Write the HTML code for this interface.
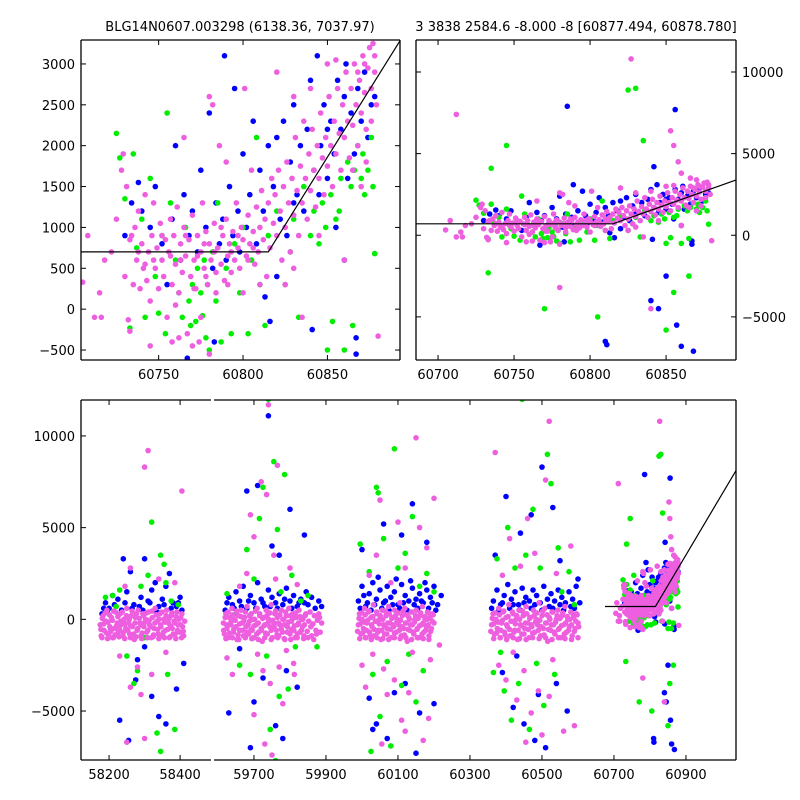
<!DOCTYPE html>
<html><head><meta charset="utf-8"><style>
html,body{margin:0;padding:0;background:#fff;width:800px;height:800px;overflow:hidden;}
svg{display:block;font-family:"DejaVu Sans","Liberation Sans",sans-serif;}
</style></head><body>
<svg id="fig" width="800" height="800" viewBox="0 0 800 800">
<defs>
<clipPath id="cTL"><rect x="81" y="40" width="319" height="320"/></clipPath>
<clipPath id="cTR"><rect x="416" y="40" width="320" height="320"/></clipPath>
<clipPath id="cBL"><rect x="81" y="400" width="130" height="360"/></clipPath>
<clipPath id="cBR"><rect x="214" y="400" width="522" height="360"/></clipPath>
</defs>
<text x="240" y="31" text-anchor="middle" font-size="13">BLG14N0607.003298 (6138.36, 7037.97)</text>
<text x="576" y="31" text-anchor="middle" font-size="13">3 3838 2584.6 -8.000 -8 [60877.494, 60878.780]</text>
<g id="layer"></g>
</svg>
<script>
// model line
const lineT=[60675,60815,61040];
const lineF=[700,700,8150];
// season A
const pinkA=[[58175,-300],[58178,-900],[58183,200],[58186,-600],[58191,-100],[58194,500],[58199,-800],[58202,-400],[58207,100],[58210,-1000],[58215,-500],[58218,400],[58223,-200],[58226,-700],[58231,300],[58234,-300],[58239,-900],[58242,0],[58247,-500],[58250,600],[58255,-200],[58258,-800],[58263,200],[58266,-400],[58271,-1100],[58274,100],[58279,-600],[58282,500],[58287,-200],[58290,-900],[58295,300],[58298,-400],[58303,0],[58306,-700],[58311,400],[58314,-300],[58319,-1000],[58322,100],[58327,-500],[58330,600],[58335,-100],[58338,-800],[58343,300],[58346,-400],[58351,-900],[58354,0],[58359,-600],[58362,500],[58367,-200],[58370,-1000],[58375,200],[58378,-500],[58383,-100],[58386,-800],[58391,400],[58394,-300],[58399,-700],[58402,100],[58407,-400],[58410,-900],
[58230,-2000],[58245,1800],[58260,2800],[58280,-2600],[58300,8300],[58310,9200],[58290,-4100],[58260,-3700],[58340,2200],[58385,2000],[58405,7000],[58300,-6500],[58250,-6700],[58320,-3000],[58360,-1800]];
const pinkA2=[[58177,-550],[58181,50],[58185,-250],[58189,350],[58193,-750],[58197,-150],[58201,250],[58205,-650],[58209,-50],[58213,450],[58217,-850],[58221,-350],[58225,150],[58229,-550],[58233,-100],[58237,400],[58241,-700],[58245,-250],[58249,200],[58253,-600],[58257,0],[58261,-350],[58265,450],[58269,-800],[58273,-200],[58277,300],[58281,-500],[58285,50],[58289,-300],[58293,-750],[58297,200],[58301,-150],[58305,350],[58309,-600],[58313,-50],[58317,-400],[58321,450],[58325,-850],[58329,-200],[58333,250],[58337,-550],[58341,0],[58345,-300],[58349,400],[58353,-700],[58357,-150],[58361,200],[58365,-550],[58369,50],[58373,-350],[58377,350],[58381,-800],[58385,-200],[58389,150],[58393,-600],[58397,0],[58401,-300],[58405,300],[58409,-650],[58413,-100],[58180,-1000],[58196,-1050],[58212,-1000],[58228,-950],[58244,-1050],[58260,-1000],[58276,-950],[58292,-1050],[58308,-1000],[58324,-950],[58340,-1050],[58356,-1000],[58372,-950],[58388,-1050],[58404,-1000]];
const blueA=[[58180,300],[58190,900],[58200,600],[58210,1300],[58225,1100],[58240,3300],[58250,1500],[58260,2600],[58270,800],[58280,-2200],[58290,1200],[58300,3300],[58310,1000],[58320,1600],[58330,2000],[58340,700],[58350,1100],[58360,1800],[58370,2500],[58380,900],[58390,700],[58400,1200],[58410,-2400],[58230,-5500],[58255,-6600],[58275,-3300],[58320,-4200],[58340,-5300],[58360,-5700],[58390,-3800],[58300,-1500],[58205,-500],
[58185,600],[58195,400],[58215,800],[58235,500],[58245,900],[58265,600],[58285,700],[58295,500],[58315,900],[58335,400],[58355,800],[58375,600],[58395,900],[58405,500]];
const greenA=[[58190,1200],[58210,1300],[58230,1600],[58250,-2000],[58270,-3500],[58290,1800],[58310,2400],[58320,5300],[58335,-6200],[58345,3500],[58355,3000],[58365,-3000],[58375,1000],[58385,-6000],[58395,800],[58300,-1000],[58280,-2800],[58345,-7200],[58360,2000],[58220,700]];
// season B
const pinkB=[[59615,-200],[59618,-800],[59622,300],[59625,-500],[59629,-1000],[59632,100],[59636,-300],[59639,600],[59643,-700],[59646,0],[59650,-400],[59653,-1100],[59657,200],[59660,-600],[59664,500],[59667,-200],[59671,-900],[59674,100],[59678,-400],[59681,700],[59685,-800],[59688,-100],[59692,300],[59695,-600],[59699,-1000],[59702,0],[59706,-300],[59709,600],[59713,-700],[59716,200],[59720,-500],[59723,-1200],[59727,100],[59730,-300],[59734,500],[59737,-800],[59741,0],[59744,-400],[59748,800],[59751,-1000],[59755,-200],[59758,300],[59762,-600],[59765,100],[59769,-900],[59772,-300],[59776,500],[59779,-700],[59783,0],[59786,-1100],[59790,200],[59793,-400],[59797,600],[59800,-800],[59804,-100],[59807,300],[59811,-600],[59814,-1000],[59818,100],[59821,-300],[59825,500],[59828,-700],[59832,0],[59835,-400],[59839,-900],[59842,200],
[59625,-2100],[59640,-3000],[59660,1800],[59680,2500],[59700,4500],[59710,-1900],[59720,7500],[59725,-2800],[59735,6800],[59745,-3500],[59755,3500],[59760,2200],[59770,-2600],[59780,-4600],[59790,-1700],[59800,2800],[59810,-2400],[59820,1900],[59700,-5200],[59690,5700],[59730,-6800],[59750,-7400],[59740,11700],[59765,8400],[59812,-3000]];
const pinkB2=[[59616,-600],[59620,100],[59624,-300],[59628,400],[59632,-750],[59636,-150],[59640,250],[59644,-550],[59648,-50],[59652,450],[59656,-850],[59660,-250],[59664,150],[59668,-600],[59672,-100],[59676,400],[59680,-700],[59684,-300],[59688,200],[59692,-550],[59696,0],[59700,-350],[59704,450],[59708,-800],[59712,-200],[59716,300],[59720,-600],[59724,50],[59728,-350],[59732,-750],[59736,200],[59740,-150],[59744,350],[59748,-600],[59752,-50],[59756,-400],[59760,450],[59764,-850],[59768,-200],[59772,250],[59776,-550],[59780,0],[59784,-300],[59788,400],[59792,-700],[59796,-150],[59800,200],[59804,-550],[59808,50],[59812,-350],[59816,350],[59820,-800],[59824,-200],[59828,150],[59832,-600],[59836,0],[59840,-300],[59844,300],[59848,-650],[59852,-100],[59856,400],[59860,-900],[59864,-250],[59868,200],[59872,-600],[59876,-50],[59880,300],[59884,-700],[59888,-200],[59850,-1000],[59858,-400],[59866,-1100],[59874,-800],[59882,100],[59622,-1050],[59640,-1000],[59658,-1100],[59676,-1000],[59694,-1050],[59712,-1100],[59730,-1000],[59748,-1100],[59766,-1000],[59784,-1050],[59802,-1100],[59820,-1000],[59838,-1050]];
const blueB=[[59620,500],[59630,1200],[59640,800],[59650,1500],[59660,1000],[59670,1800],[59680,600],[59690,1300],[59700,900],[59710,2000],[59720,1100],[59730,700],[59740,1600],[59750,1200],[59760,900],[59770,1400],[59780,800],[59790,1700],[59800,1000],[59810,1300],[59820,700],[59830,1100],[59840,900],[59845,1500],
[59680,7000],[59700,-4500],[59710,7300],[59725,-3200],[59740,11100],[59750,4000],[59760,-5800],[59770,3500],[59780,-6500],[59800,6000],[59820,-3700],[59840,4600],[59630,-5100],[59660,-1600],[59790,-2800],[59690,-7000],
[59625,900],[59645,600],[59665,700],[59685,1000],[59705,600],[59725,900],[59745,700],[59765,600],[59785,1100],[59805,600],[59825,900],[59850,800],[59860,1200],[59870,600],[59880,1000],[59888,700]];
const greenB=[[59625,1400],[59650,300],[59660,-2500],[59680,3800],[59690,-3000],[59700,2200],[59715,5500],[59725,7200],[59735,-2000],[59745,-6000],[59755,8600],[59765,4900],[59775,1500],[59785,7900],[59795,-3800],[59805,2400],[59815,-1500],[59830,1000],[59740,12000],[59760,-7700],[59700,-1000],[59770,-4200],[59850,1300],[59875,-1500]];
// season C
const pinkC=[[59990,-300],[59993,300],[59997,-800],[60000,0],[60004,-500],[60007,600],[60011,-1000],[60014,-200],[60018,400],[60021,-700],[60025,100],[60028,-400],[60032,800],[60035,-900],[60039,-100],[60042,300],[60046,-600],[60049,0],[60053,-1100],[60056,500],[60060,-300],[60063,-800],[60067,200],[60070,-500],[60074,700],[60077,-200],[60081,-1000],[60084,100],[60088,-400],[60091,500],[60095,-700],[60098,0],[60102,-300],[60105,900],[60109,-900],[60112,200],[60116,-500],[60119,600],[60123,-200],[60126,-1200],[60130,100],[60133,-600],[60137,400],[60140,-300],[60144,-800],[60147,0],[60151,500],[60154,-500],[60158,-1000],[60161,200],[60165,-300],[60168,700],[60172,-700],[60175,0],[60179,-400],[60182,400],[60186,-900],[60189,100],[60193,-500],[60196,300],[60200,-200],
[60000,-2500],[60010,-3700],[60020,2400],[60030,-1900],[60040,3500],[60050,6500],[60060,-2700],[60070,-4100],[60080,2000],[60090,-3300],[60100,5300],[60110,-5500],[60120,2800],[60130,-4000],[60140,-1800],[60150,9900],[60160,5000],[60170,-6600],[60180,3900],[60190,-2200],[60200,6600],[60215,-1400],[60055,-6800],[60120,-6100],[60185,-5400]];
const pinkC2=[[59988,-650],[59992,50],[59995,-250],[59999,350],[60002,-750],[60006,-150],[60009,250],[60013,-600],[60016,-50],[60020,450],[60023,-850],[60027,-300],[60030,150],[60034,-550],[60037,-100],[60041,400],[60044,-700],[60048,-250],[60051,200],[60055,-600],[60058,0],[60062,-350],[60065,450],[60069,-800],[60072,-200],[60076,300],[60079,-550],[60083,50],[60086,-300],[60090,-750],[60093,200],[60097,-150],[60100,350],[60104,-600],[60107,-50],[60111,-400],[60114,450],[60118,-850],[60121,-200],[60125,250],[60128,-550],[60132,0],[60135,-300],[60139,400],[60142,-700],[60146,-150],[60149,200],[60153,-550],[60156,50],[60160,-350],[60163,350],[60167,-800],[60170,-200],[60174,150],[60177,-600],[60181,0],[60184,-300],[60188,300],[60191,-650],[60195,-100],[60198,250],[59994,-1050],[60010,-1000],[60026,-1100],[60042,-1000],[60058,-1050],[60074,-1100],[60090,-1000],[60106,-1050],[60122,-1000],[60138,-1100],[60154,-1000],[60170,-1050],[60186,-1100]];
const blueC=[[59990,1000],[60000,1800],[60010,700],[60020,1400],[60030,2000],[60040,1100],[60050,1600],[60060,900],[60070,1800],[60080,1200],[60090,1500],[60100,800],[60110,1900],[60120,1300],[60130,1000],[60140,1700],[60150,1100],[60160,1400],[60170,900],[60180,1600],[60190,1200],[60200,1800],[60210,800],[60220,1300],[60005,1300],[60045,2300],[60095,2200],[60135,2100],[60175,2000],
[60000,3800],[60020,-4300],[60040,-5700],[60060,5200],[60070,-6500],[60090,-4000],[60110,4600],[60120,-3500],[60140,6300],[60160,-5100],[60180,4200],[60200,-4600],[60030,-6000],[60150,-7300],
[59995,600],[60015,900],[60025,500],[60035,800],[60055,600],[60065,1000],[60075,500],[60085,800],[60105,600],[60115,900],[60125,500],[60145,800],[60155,600],[60165,1000],[60185,600],[60195,900],[60205,500]];
const greenC=[[59995,4100],[60010,-1000],[60020,2600],[60030,-3000],[60040,7200],[60050,-5300],[60060,4400],[60070,-2300],[60080,-6900],[60090,9300],[60100,2800],[60110,-3600],[60120,3600],[60130,-1900],[60140,5600],[60150,-4500],[60160,1800],[60170,-2800],[60180,2500],[60200,1500],[60045,6900],[60025,-7200]];
// season D
const pinkD=[[60360,-300],[60364,300],[60368,-800],[60372,0],[60376,-500],[60380,600],[60384,-1000],[60388,-200],[60392,400],[60396,-700],[60400,100],[60404,-400],[60408,800],[60412,-900],[60416,-100],[60420,300],[60424,-600],[60428,0],[60432,-1100],[60436,500],[60440,-300],[60444,-800],[60448,200],[60452,-500],[60456,700],[60460,-200],[60464,-1000],[60468,100],[60472,-400],[60476,500],[60480,-700],[60484,0],[60488,-300],[60492,900],[60496,-900],[60500,200],[60504,-500],[60508,600],[60512,-200],[60516,-1200],[60520,100],[60524,-600],[60528,400],[60532,-300],[60536,-800],[60540,0],[60544,500],[60548,-500],[60552,-1000],[60556,200],[60560,-300],[60564,700],[60568,-700],[60572,0],[60576,-400],[60580,400],[60584,-900],[60588,100],[60592,-500],[60596,300],[60600,-200],
[60370,9100],[60380,-2500],[60390,2400],[60400,-3300],[60410,4400],[60420,-1800],[60430,-4400],[60440,2900],[60450,-2800],[60460,5500],[60470,-5100],[60480,3600],[60490,-3900],[60500,-6300],[60510,7600],[60520,10800],[60530,-2200],[60540,2500],[60560,-6100],[60580,4000],[60590,-5800],[60455,-6700],[60520,-4200]];
const pinkD2=[[60358,-650],[60362,50],[60366,-250],[60370,350],[60374,-750],[60378,-150],[60382,250],[60386,-600],[60390,-50],[60394,450],[60398,-850],[60402,-300],[60406,150],[60410,-550],[60414,-100],[60418,400],[60422,-700],[60426,-250],[60430,200],[60434,-600],[60438,0],[60442,-350],[60446,450],[60450,-800],[60454,-200],[60458,300],[60462,-550],[60466,50],[60470,-300],[60474,-750],[60478,200],[60482,-150],[60486,350],[60490,-600],[60494,-50],[60498,-400],[60502,450],[60506,-850],[60510,-200],[60514,250],[60518,-550],[60522,0],[60526,-300],[60530,400],[60534,-700],[60538,-150],[60542,200],[60546,-550],[60550,50],[60554,-350],[60558,350],[60562,-800],[60566,-200],[60570,150],[60574,-600],[60578,0],[60582,-300],[60586,300],[60590,-650],[60594,-100],[60598,250],[60602,-400],[60366,-1050],[60384,-1000],[60402,-1100],[60420,-1000],[60438,-1050],[60456,-1100],[60474,-1000],[60492,-1050],[60510,-1000],[60528,-1100],[60546,-1000],[60564,-1050],[60582,-1100],[60600,-1000]];
const blueD=[[60365,1000],[60375,1600],[60385,800],[60395,1300],[60405,1900],[60415,1100],[60425,1500],[60435,800],[60445,1700],[60455,1200],[60465,1000],[60475,1600],[60485,1300],[60495,900],[60505,1800],[60515,1100],[60525,1400],[60535,1000],[60545,1600],[60555,1200],[60565,900],[60575,1500],[60585,1100],[60595,1800],
[60370,3500],[60390,-2900],[60400,6700],[60420,-4800],[60440,4700],[60450,-5700],[60470,5700],[60480,-6600],[60490,-4100],[60500,8300],[60510,-7000],[60530,6100],[60540,-3500],[60550,3200],[60570,-5000],[60600,2200],[60430,-2000],
[60360,600],[60380,500],[60390,900],[60410,600],[60420,800],[60440,500],[60450,900],[60470,600],[60480,800],[60500,500],[60520,700],[60530,600],[60550,800],[60560,500],[60580,700],[60590,600],[60605,900]];
const greenD=[[60365,-2900],[60375,3300],[60385,-1800],[60395,-3900],[60405,5000],[60415,-5500],[60425,2800],[60435,-3500],[60445,12000],[60455,3500],[60465,-6000],[60475,6000],[60485,-2400],[60495,2800],[60505,-4700],[60515,9000],[60525,7400],[60535,-3000],[60545,3900],[60555,1500],[60575,2600],[60590,800]];
// season E (current event)
const pinkE=[[60705,330],[60708,900],[60712,-100],[60716,-100],[60715,200],[60718,600],[60722,700],[60725,1100],[60728,1700],[60729,1900],[60730,400],[60731,1500],[60732,-130],[60733,-270],[60734,900],[60735,300],[60736,1000],[60737,600],[60738,1200],[60739,250],[60740,800],[60741,500],[60742,1400],[60743,350],[60744,700],[60745,100],[60746,900],[60747,1300],[60748,500],[60749,750],[60750,250],[60751,1050],[60752,600],[60753,400],[60754,850],[60755,-100],[60756,700],[60757,1100],[60758,300],[60759,900],[60760,550],[60761,1250],[60762,200],[60763,800],[60764,450],[60765,1000],[60766,650],[60767,-300],[60768,850],[60769,400],[60770,1150],[60771,600],[60772,250],[60773,900],[60774,-400],[60775,700],[60776,1300],[60777,500],[60778,950],[60779,300],[60780,800],[60781,600],[60782,2500],[60783,1050],[60784,450],[60785,750],[60786,2000],[60787,550],[60788,900],[60789,350],[60790,1100],[60791,650],[60792,800],[60793,450],[60794,950],[60795,600],[60796,1300],[60797,750],[60798,500],[60799,1000],[60800,850],[60801,2700],[60802,650],[60803,1150],[60804,800],[60805,1700],[60806,950],[60807,550],[60808,1250],[60809,700],[60810,1000],[60811,1450],[60812,850],[60813,1100],[60814,400],[60815,1300],[60816,750],[60817,1600],[60818,1050],[60819,1400],[60820,900],[60821,1700],[60822,1200],[60823,600],[60824,1500],[60825,1000],[60826,1800],[60827,1300],[60828,700],[60829,1600],[60830,1150],[60831,2100],[60832,1450],[60833,900],[60834,1750],[60835,1300],[60836,2300],[60837,1600],[60838,1100],[60839,1900],[60840,1450],[60841,2200],[60842,1700],[60843,1250],[60844,2000],[60845,1600],[60846,2400],[60847,1850],[60848,1400],[60849,2100],[60850,1750],[60851,2600],[60852,2000],[60853,1500],[60854,2300],[60855,1900],[60856,2700],[60857,2150],[60858,1700],[60859,2500],[60860,2100],[60861,2900],[60862,2300],[60863,1850],[60864,2700],[60865,2250],[60866,3000],[60867,2500],[60868,2000],[60869,2800],[60870,2400],[60871,3100],[60872,2650],[60873,2200],[60874,2950],[60875,3200],[60876,2700],[60877,3250],[60878,2900],[60879,2500],[60880,-330],
[60762,-350],[60770,-450],[60775,-100],[60780,-550],[60760,50],[60765,2100],[60780,2600],[60790,1800],[60820,2900],[60830,2600],[60840,2700],[60800,200],[60810,300],[60850,3000],[60855,3050],[60845,900],[60830,500],[60825,300],[60835,-100],[60860,600],[60870,1500],[60865,1700],[60873,1800],[60868,2900],[60876,2300],[60872,3000],[60878,3100],[60766,900],[60773,650],[60777,800],[60783,700],[60787,1000],[60793,700],[60797,900],[60803,600],[60806,750],[60791,300],[60784,200],[60778,400],[60771,250],[60763,600],[60757,650],[60752,900],[60747,600],[60742,550],[60738,700],[60733,850],[60758,-400],[60745,-450],
[60827,10800],[60853,6400],[60855,5500],[60858,4500],[60860,3800],[60712,7400],[60780,-3200],[60840,-4500],[60866,3500],[60870,3400]];
const blueE=[[60730,900],[60734,1300],[60738,1550],[60740,1200],[60745,1000],[60748,1500],[60752,800],[60755,300],[60758,1100],[60760,2000],[60763,600],[60765,1400],[60767,-600],[60768,900],[60770,1200],[60773,700],[60775,1700],[60778,1000],[60780,2400],[60782,500],[60783,-400],[60784,1300],[60786,800],[60788,1100],[60789,3100],[60790,600],[60792,1500],[60794,900],[60795,2700],[60797,1200],[60798,700],[60800,1900],[60802,1000],[60804,1400],[60806,2300],[60808,800],[60810,1700],[60812,1200],[60813,150],[60815,2000],[60816,-150],[60818,1500],[60820,2100],[60822,1100],[60824,2300],[60826,900],[60828,1800],[60830,2500],[60832,1400],[60834,2000],[60836,1200],[60838,2200],[60840,2800],[60841,-250],[60842,1700],[60844,3100],[60846,2000],[60848,2500],[60850,1600],[60852,2300],[60854,1900],[60856,2800],[60858,2200],[60860,2600],[60861,3000],[60862,1600],[60864,2400],[60866,1900],[60867,-550],[60867,-350],[60868,2700],[60870,2300],[60872,2900],[60874,2100],[60876,2500],[60878,2600],[60860,600],[60855,1000],[60820,400],[60830,1300],[60845,1400],[60850,2200],
[60785,7900],[60856,7700],[60810,-6500],[60811,-6700],[60845,-4500],[60857,-5500],[60860,-6800],[60840,-4000],[60842,4200],[60868,-7100],[60850,-2500]];
const greenE=[[60725,2150],[60727,1850],[60730,1350],[60733,-230],[60735,1900],[60737,750],[60740,1100],[60742,-100],[60745,1600],[60748,400],[60750,-50],[60752,900],[60754,-300],[60755,2400],[60757,1300],[60760,600],[60762,200],[60764,-100],[60766,1000],[60768,100],[60769,-200],[60770,300],[60772,-150],[60773,500],[60775,200],[60776,-80],[60777,600],[60778,-350],[60779,300],[60780,-500],[60782,700],[60784,100],[60785,1300],[60787,-400],[60790,500],[60793,-300],[60795,800],[60798,200],[60800,1000],[60803,-300],[60805,600],[60808,2100],[60810,300],[60813,-200],[60815,900],[60820,1200],[60825,300],[60828,700],[60830,1100],[60833,-100],[60836,1500],[60840,900],[60842,1200],[60845,800],[60847,1300],[60849,1000],[60850,-500],[60852,1400],[60855,1100],[60858,1600],[60860,-500],[60862,1800],[60864,1500],[60866,1700],[60868,2000],[60870,1600],[60871,1900],[60872,1400],[60874,1700],[60876,2100],[60877,1500],[60878,680],[60865,-200],[60857,1200],[60853,-150],
[60830,9000],[60835,5800],[60745,5500],[60735,4100],[60770,-4500],[60805,-5000],[60855,-3500],[60733,-2300],[60865,-2500],[60825,8900],[60850,-5800]];
// tick labels
const tlXTicks=[60750,60800,60850];
const tlYTicks=[-500,0,500,1000,1500,2000,2500,3000];
const trXTicks=[60700,60750,60800,60850];
const trYTicks=[-5000,0,5000,10000];
const bXTicksL=[58200,58400];
const bXTicksR=[59700,59900,60100,60300,60500,60700,60900];
const bYTicks=[-5000,0,5000,10000];

const NS='http://www.w3.org/2000/svg';
const layer=document.getElementById('layer');
function mk(tag,attrs,parent){const e=document.createElementNS(NS,tag);for(const k in attrs)e.setAttribute(k,attrs[k]);(parent||layer).appendChild(e);return e;}
function lin(d0,d1,r0,r1){return v=>r0+(v-d0)*(r1-r0)/(d1-d0);}

const panels=[
 {id:'top-left',clip:'cTL',x:lin(60704,60893,81,400),y:lin(-622,3293,360,40),box:[81,40,400,360]},
 {id:'top-right',clip:'cTR',x:lin(60685.5,60896,416,736),y:lin(-7640,11960,360,40),box:[416,40,736,360]},
 {id:'bottom-left',clip:'cBL',x:lin(58121,58487,81,211),y:lin(-7670,11960,760,400),box:[81,400,211,760]},
 {id:'bottom-right',clip:'cBR',x:lin(59589,61039,214,736),y:lin(-7670,11960,760,400),box:[214,400,736,760]}
];
const COL={blue:'#0000ff',green:'#00ee00',pink:'#ee5fe0'};
const seriesAll=[['blue',[blueA,blueB,blueC,blueD,blueE]],['green',[greenA,greenB,greenC,greenD,greenE]],['pink',[pinkA,pinkA2,pinkB,pinkB2,pinkC,pinkC2,pinkD,pinkD2,pinkE]]];

panels.forEach(p=>{
  const g=mk('g',{'clip-path':'url(#'+p.clip+')'});
  
  
  seriesAll.forEach(([c,lists])=>{
    const sg=mk('g',{fill:COL[c]},g);
    
    
    lists.forEach(arr=>arr.forEach(([t,f])=>{
      const cx=p.x(t),cy=p.y(f);
      if(cx<p.box[0]-4||cx>p.box[2]+4)return;
      const d=mk('circle',{cx:cx.toFixed(1),cy:cy.toFixed(1),r:2.8},sg);
      
      
    }));
  });
  const pts=lineT.map((t,i)=>p.x(t).toFixed(1)+','+p.y(lineF[i]).toFixed(1)).join(' ');
  const pl=mk('polyline',{points:pts,fill:'none',stroke:'#000','stroke-width':1.2},g);
  
  
});

function frame(p,sides){
  const [x0,y0,x1,y1]=p.box;
  const f=mk('g',{stroke:'#000','stroke-width':1.3,fill:'none'});
  
  
  if(sides.includes('t'))mk('line',{x1:x0,y1:y0,x2:x1,y2:y0},f);
  if(sides.includes('b'))mk('line',{x1:x0,y1:y1,x2:x1,y2:y1},f);
  if(sides.includes('l'))mk('line',{x1:x0,y1:y0,x2:x0,y2:y1},f);
  if(sides.includes('r'))mk('line',{x1:x1,y1:y0,x2:x1,y2:y1},f);
}
function xticks(p,ticks,name){
  const g=mk('g',{});
  
  
  ticks.forEach(v=>{
    const x=p.x(v);
    mk('line',{x1:x,y1:p.box[3],x2:x,y2:p.box[3]-5,stroke:'#000','stroke-width':1},g);
    mk('line',{x1:x,y1:p.box[1],x2:x,y2:p.box[1]+5,stroke:'#000','stroke-width':1},g);
    const t=mk('text',{x:x,y:p.box[3]+19,'text-anchor':'middle','font-size':13},g);
    t.textContent=v;
    
    
  });
}
function yticks(p,ticks,name,right,labelsLeft){
  const g=mk('g',{});
  
  
  ticks.forEach(v=>{
    const y=p.y(v);
    mk('line',{x1:p.box[0],y1:y,x2:p.box[0]+5,y2:y,stroke:'#000','stroke-width':1},g);
    if(right)mk('line',{x1:p.box[2],y1:y,x2:p.box[2]-5,y2:y,stroke:'#000','stroke-width':1},g);
    const lab=v<0?'\u2212'+Math.abs(v):String(v);
    const t=labelsLeft?mk('text',{x:p.box[0]-6,y:y+5,'text-anchor':'end','font-size':13},g)
                      :mk('text',{x:p.box[2]+6,y:y+5,'text-anchor':'start','font-size':13},g);
    t.textContent=lab;
    
    
  });
}
frame(panels[0],'tblr');frame(panels[1],'tblr');frame(panels[2],'tbl');frame(panels[3],'tbr');
xticks(panels[0],tlXTicks,'top-left-x-axis');
yticks(panels[0],tlYTicks,'top-left-y-axis',true,true);
xticks(panels[1],trXTicks,'top-right-x-axis');
yticks(panels[1],trYTicks,'top-right-y-axis',true,false);
xticks(panels[2],bXTicksL,'bottom-left-x-axis');
yticks(panels[2],bYTicks,'bottom-y-axis',false,true);
xticks(panels[3],bXTicksR,'bottom-right-x-axis');
</script>
</body></html>
